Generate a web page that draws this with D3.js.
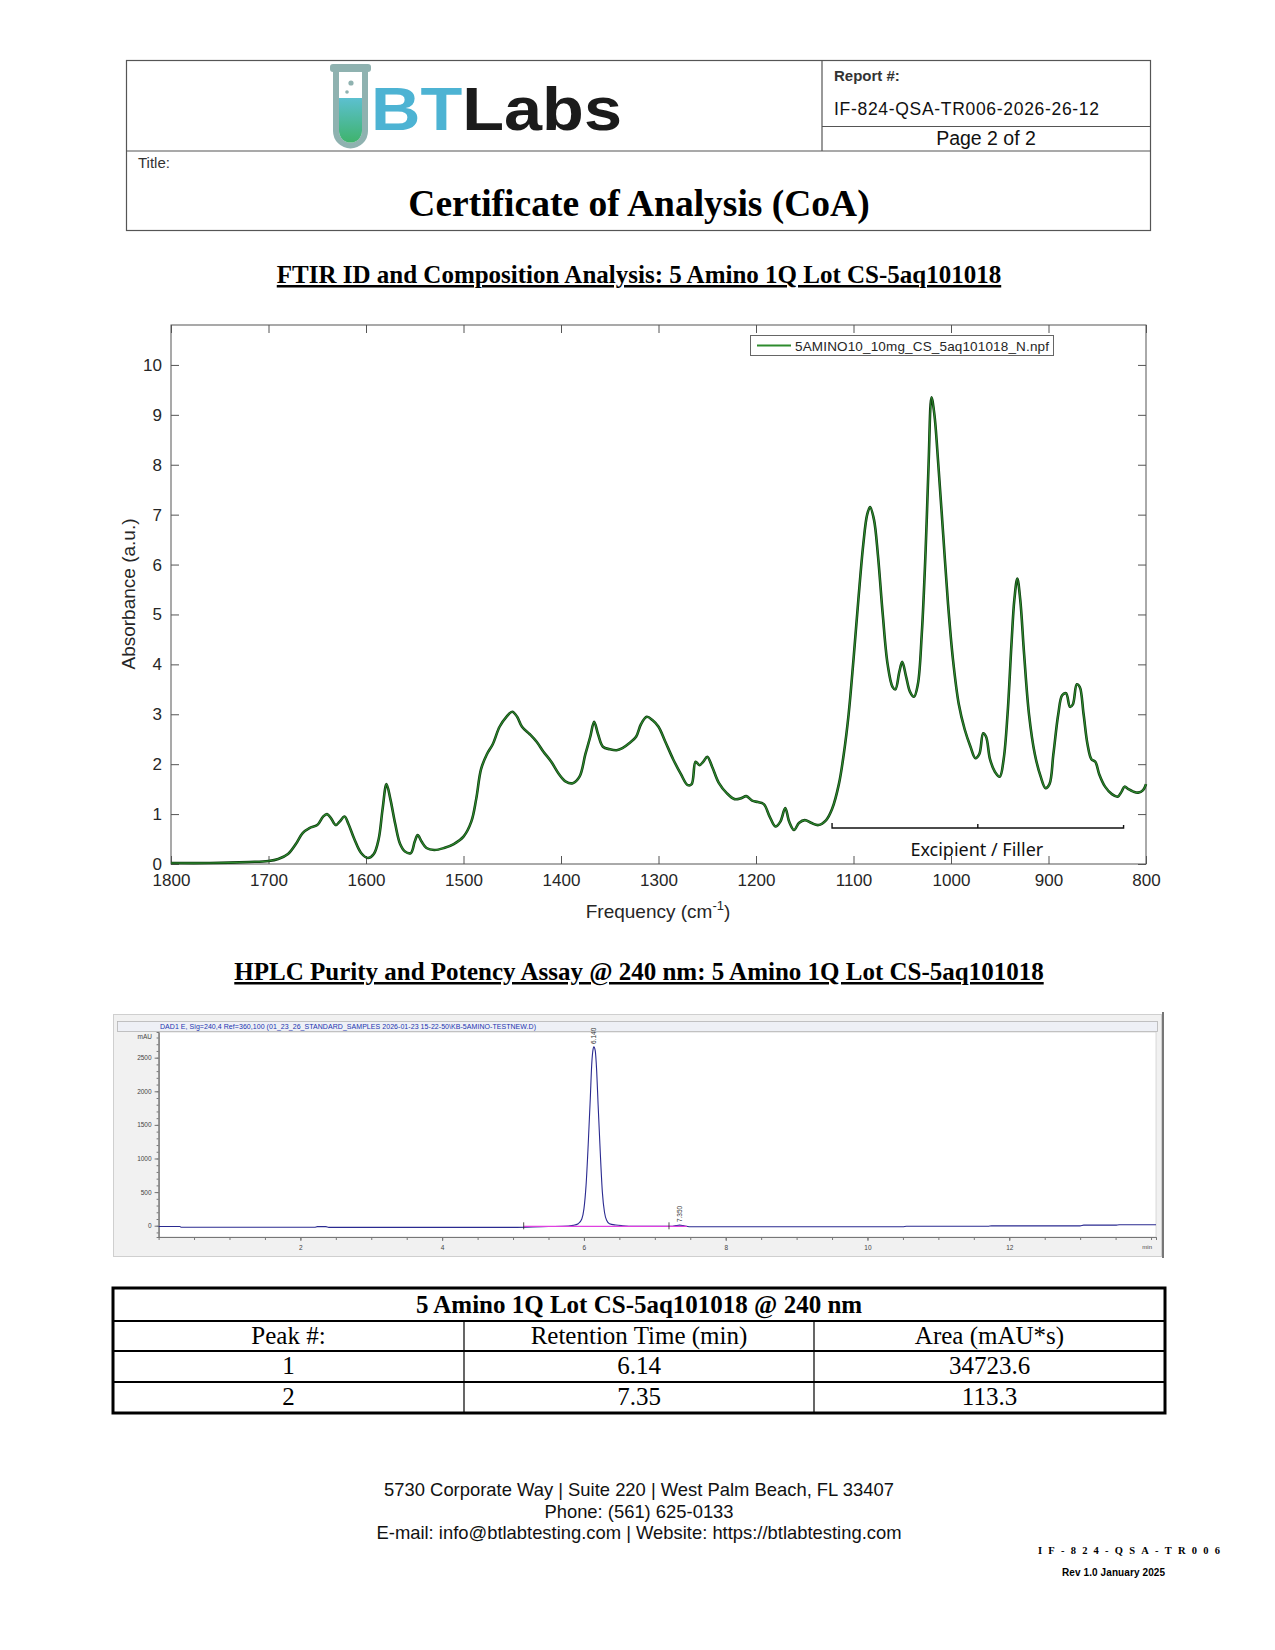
<!DOCTYPE html>
<html lang="en">
<head>
<meta charset="utf-8">
<title>BTLabs Certificate of Analysis - 5 Amino 1Q</title>
<script src="https://cdn.jsdelivr.net/npm/d3@7"></script>
<style>
body { margin: 0; background: #fff; }
svg { display: block; }
.serif { font-family: "Liberation Serif", "Times New Roman", serif; }
.sans { font-family: "Liberation Sans", Arial, sans-serif; }
</style>
</head>
<body>
<script>
// FTIR spectrum (wavenumber cm-1, absorbance a.u.)
var ftirWave = [1800,1760,1720,1700,1690,1680,1672,1665,1658,1650,1644,1640,1636,1631,1627,1622,1618,1612,1605,1598,
  1592,1587,1583,1579,1575,1570,1565,1560,1554,1550,1547,1543,1538,1530,1520,1510,1500,1492,1487,1482,
  1476,1470,1463,1456,1450,1445,1440,1432,1425,1418,1410,1402,1395,1388,1381,1375,1370,1366,1362,1357,
  1350,1343,1337,1330,1323,1318,1312,1306,1300,1293,1285,1277,1270,1266,1262,1258,1254,1250,1245,1238,
  1230,1222,1215,1210,1204,1198,1192,1186,1180,1175,1170,1166,1161,1156,1150,1143,1136,1128,1122,1115,
  1110,1105,1100,1095,1090,1086,1083,1079,1075,1070,1065,1060,1057,1053,1050,1046,1042,1038,1034,1030,
  1026,1023,1020,1017,1013,1008,1003,998,992,986,980,975,971,967,964,960,955,950,946,942,
  938,935,932,929,925,920,914,908,903,899,895,890,886,882,878,875,871,868,864,860,
  856,852,848,842,835,829,825,822,818,813,808,803,800];
var ftirAbs = [0.02,0.02,0.04,0.06,0.1,0.2,0.4,0.62,0.72,0.78,0.95,1.0,0.92,0.78,0.85,0.95,0.8,0.5,0.22,0.12,
  0.2,0.5,1.1,1.6,1.3,0.8,0.4,0.25,0.22,0.45,0.58,0.45,0.32,0.28,0.32,0.4,0.55,0.85,1.3,1.9,
  2.2,2.4,2.75,2.95,3.05,2.95,2.75,2.6,2.45,2.25,2.05,1.8,1.65,1.62,1.75,2.2,2.55,2.85,2.6,2.35,
  2.3,2.28,2.32,2.42,2.55,2.8,2.95,2.88,2.75,2.45,2.1,1.8,1.58,1.6,2.05,1.98,2.05,2.15,1.95,1.62,
  1.42,1.3,1.32,1.36,1.27,1.24,1.2,0.95,0.75,0.85,1.12,0.85,0.68,0.82,0.88,0.82,0.78,0.88,1.1,1.6,
  2.2,3.0,4.1,5.3,6.4,7.0,7.15,6.9,6.2,5.0,4.0,3.55,3.5,3.85,4.05,3.75,3.45,3.35,3.6,4.6,
  6.3,8.0,9.35,9.0,8.0,6.6,5.2,4.1,3.2,2.7,2.35,2.12,2.2,2.62,2.55,2.1,1.85,1.75,2.1,3.0,
  4.4,5.3,5.72,5.3,4.2,3.0,2.2,1.75,1.52,1.6,2.2,3.0,3.38,3.42,3.15,3.2,3.6,3.55,3.0,2.4,
  2.1,2.05,1.8,1.55,1.4,1.35,1.45,1.55,1.5,1.45,1.43,1.48,1.6];
var ftirXTicks = [1800,1700,1600,1500,1400,1300,1200,1100,1000,900,800];
var ftirYTicks = [0,1,2,3,4,5,6,7,8,9,10];
var ftirLegend = "5AMINO10_10mg_CS_5aq101018_N.npf";
var excipientRange = [1122, 823];

// HPLC chromatogram (min, mAU)
var hplcTime = [0,0.3,0.32,1.0,2.0,2.2,2.24,2.36,2.4,3.0,4.0,5.0,5.5,5.7,5.85,5.92,5.97,6.0,6.03,6.06,
  6.09,6.11,6.13,6.14,6.16,6.18,6.2,6.23,6.26,6.29,6.32,6.36,6.45,6.55,6.7,7.0,7.25,7.3,7.35,7.4,
  7.45,7.5,8.0,9.0,10.0,10.5,10.55,11.0,11.7,11.75,12.5,13.0,13.05,13.5,13.55,14.07];
var hplcSignal = [-12,-12,-24,-24,-24,-24,-14,-14,-25,-25,-25,-25,-12,-10,5,30,100,250,600,1200,
  1900,2400,2630,2660,2600,2300,1800,1100,500,200,80,30,10,0,-8,-9,-8,2,9,2,
  -8,-16,-16,-16,-16,-16,-8,-8,-8,-2,-2,-2,8,8,15,15];
var hplcXTicks = [2,4,6,8,10,12];
var hplcYTicks = [0,500,1000,1500,2000,2500];
var hplcTitle = "DAD1 E, Sig=240,4 Ref=360,100 (01_23_26_STANDARD_SAMPLES 2026-01-23 15-22-50\\KB-5AMINO-TESTNEW.D)";
var peakTimes = [6.14, 7.35];
var peakLabels = ["6.140", "7.350"];
var peakHeights = [2660, 9];
var integrationBase = [5.15, 7.45, -9];

// results table
var tableTitle = "5 Amino 1Q Lot CS-5aq101018 @ 240 nm";
var tableHeader = ["Peak #:", "Retention Time (min)", "Area (mAU*s)"];
var peakNumbers = ["1", "2"];
var retentionTimes = ["6.14", "7.35"];
var peakAreas = ["34723.6", "113.3"];

var footerLines = ["5730 Corporate Way | Suite 220 | West Palm Beach, FL 33407",
  "Phone: (561) 625-0133",
  "E-mail: info@btlabtesting.com | Website: https://btlabtesting.com"];

var W = 1275, H = 1650;
var svg = d3.select("body").append("svg").attr("width", W).attr("height", H);

// ---------- header ----------
var hdr = svg.append("g");
hdr.append("rect").attr("x", 126.5).attr("y", 60.5).attr("width", 1024).attr("height", 170)
  .attr("fill", "none").attr("stroke", "#555").attr("stroke-width", 1.2);
hdr.append("line").attr("x1", 126.5).attr("x2", 1150.5).attr("y1", 151).attr("y2", 151)
  .attr("stroke", "#555").attr("stroke-width", 1.2);
hdr.append("line").attr("x1", 822).attr("x2", 822).attr("y1", 60.5).attr("y2", 151)
  .attr("stroke", "#555").attr("stroke-width", 1.2);
hdr.append("line").attr("x1", 822).attr("x2", 1150.5).attr("y1", 126.5).attr("y2", 126.5)
  .attr("stroke", "#555").attr("stroke-width", 1.2);

hdr.append("text").attr("class", "sans").attr("x", 834).attr("y", 81)
  .attr("font-size", 15).attr("font-weight", "bold").attr("fill", "#333").text("Report #:");
hdr.append("text").attr("class", "sans").attr("x", 834).attr("y", 115)
  .attr("font-size", 17.5).attr("fill", "#111").attr("textLength", 265).text("IF-824-QSA-TR006-2026-26-12");
hdr.append("text").attr("class", "sans").attr("x", 986).attr("y", 145)
  .attr("font-size", 19.5).attr("fill", "#111").attr("text-anchor", "middle").text("Page 2 of 2");
hdr.append("text").attr("class", "sans").attr("x", 138).attr("y", 168)
  .attr("font-size", 15).attr("fill", "#333").text("Title:");
hdr.append("text").attr("class", "serif").attr("x", 639).attr("y", 216)
  .attr("font-size", 37.5).attr("font-weight", "bold").attr("text-anchor", "middle")
  .text("Certificate of Analysis (CoA)");

// logo: test tube + wordmark
var defs = svg.append("defs");
var lg = defs.append("linearGradient").attr("id", "liquid").attr("x1", 0).attr("y1", 0).attr("x2", 0).attr("y2", 1);
lg.append("stop").attr("offset", "0%").attr("stop-color", "#5cc0d0");
lg.append("stop").attr("offset", "100%").attr("stop-color", "#3fb36c");
var logo = hdr.append("g");
logo.append("path")
  .attr("d", "M336,70 L336,131 A14.5,14.5 0 0 0 365,131 L365,70")
  .attr("fill", "#fff").attr("stroke", "#8fb2b0").attr("stroke-width", 6);
logo.append("path")
  .attr("d", "M339,98 L362,98 L362,131 A11.5,11.5 0 0 1 339,131 Z")
  .attr("fill", "url(#liquid)");
logo.append("rect").attr("x", 330).attr("y", 64).attr("width", 41).attr("height", 8).attr("rx", 3)
  .attr("fill", "#8fb2b0");
logo.append("circle").attr("cx", 351).attr("cy", 83).attr("r", 2.6).attr("fill", "#8fb2b0");
logo.append("circle").attr("cx", 347).attr("cy", 92).attr("r", 1.8).attr("fill", "#8fb2b0");
var word = logo.append("text").attr("class", "sans").attr("x", 371).attr("y", 130)
  .attr("font-size", 62).attr("font-weight", "bold")
  .attr("textLength", 251).attr("lengthAdjust", "spacingAndGlyphs");
word.append("tspan").attr("fill", "#4db3d3").text("BT");
word.append("tspan").attr("fill", "#1b1b1b").text("Labs");

// ---------- FTIR ----------
svg.append("text").attr("class", "serif").attr("x", 639).attr("y", 283)
  .attr("font-size", 25).attr("font-weight", "bold").attr("text-anchor", "middle")
  .style("text-decoration", "underline")
  .text("FTIR ID and Composition Analysis: 5 Amino 1Q Lot CS-5aq101018");

var fx = d3.scaleLinear().domain([1800, 800]).range([171, 1146]);
var fy = d3.scaleLinear().domain([0, 10.8]).range([864, 325]);
var ftir = svg.append("g");

ftir.append("rect").attr("x", 171).attr("y", 325).attr("width", 975).attr("height", 539)
  .attr("fill", "#fff").attr("stroke", "#555").attr("stroke-width", 1);

function styleAxis(g) {
  g.select(".domain").remove();
  g.selectAll("line").attr("stroke", "#555");
  g.selectAll("text").attr("class", "sans").attr("font-size", 17).attr("fill", "#262626");
}
ftir.append("g").attr("transform", "translate(0,864)")
  .call(d3.axisBottom(fx).tickValues(ftirXTicks).tickSize(-8).tickPadding(10).tickFormat(d3.format("d")))
  .call(styleAxis);
ftir.append("g").attr("transform", "translate(0,325)")
  .call(d3.axisTop(fx).tickValues(ftirXTicks).tickSize(-8).tickFormat(""))
  .call(styleAxis);
ftir.append("g").attr("transform", "translate(171,0)")
  .call(d3.axisLeft(fy).tickValues(ftirYTicks).tickSize(-8).tickPadding(9))
  .call(styleAxis);
ftir.append("g").attr("transform", "translate(1146,0)")
  .call(d3.axisRight(fy).tickValues(ftirYTicks).tickSize(-8).tickFormat(""))
  .call(styleAxis);

var fxLab = ftir.append("text").attr("class", "sans").attr("x", 658).attr("y", 918)
  .attr("font-size", 19).attr("fill", "#262626").attr("text-anchor", "middle");
fxLab.append("tspan").text("Frequency (cm");
fxLab.append("tspan").attr("font-size", 13).attr("dy", -8).text("-1");
fxLab.append("tspan").attr("dy", 8).text(")");
ftir.append("text").attr("class", "sans")
  .attr("transform", "translate(135,594) rotate(-90)")
  .attr("font-size", 19).attr("fill", "#262626").attr("text-anchor", "middle")
  .text("Absorbance (a.u.)");

var ftirLine = d3.line()
  .x(function(d, i) { return fx(ftirWave[i]); })
  .y(function(d) { return fy(d); })
  .curve(d3.curveCatmullRom.alpha(0.5));
ftir.append("path").datum(ftirAbs).attr("d", ftirLine)
  .attr("fill", "none").attr("stroke", "#0f3d10").attr("stroke-width", 2.6);
ftir.append("path").datum(ftirAbs).attr("d", ftirLine)
  .attr("fill", "none").attr("stroke", "#2e8b2e").attr("stroke-width", 1.1);

// legend
ftir.append("rect").attr("x", 750.5).attr("y", 335.5).attr("width", 303).attr("height", 20)
  .attr("fill", "#fff").attr("stroke", "#666").attr("stroke-width", 1);
ftir.append("line").attr("x1", 757).attr("x2", 791).attr("y1", 345.5).attr("y2", 345.5)
  .attr("stroke", "#2e8b2e").attr("stroke-width", 2);
ftir.append("text").attr("class", "sans").attr("x", 795).attr("y", 350.5)
  .attr("font-size", 13.5).attr("fill", "#262626").attr("textLength", 254).text(ftirLegend);

// excipient bracket
var by = fy(0.72);
var bmid = (excipientRange[0] + excipientRange[1]) / 2;
ftir.append("path")
  .attr("d", "M" + fx(excipientRange[0]) + "," + (by - 5) + " V" + by + " H" + fx(excipientRange[1]) + " V" + (by - 3) +
    " M" + fx(bmid) + "," + by + " V" + (by - 4))
  .attr("fill", "none").attr("stroke", "#111").attr("stroke-width", 1.4);
ftir.append("text").attr("x", fx(bmid) - 1).attr("y", by + 28)
  .attr("font-family", "'Noto Sans', 'Open Sans', sans-serif").attr("font-size", 18).attr("fill", "#111")
  .attr("text-anchor", "middle").text("Excipient / Filler");

// ---------- HPLC ----------
svg.append("text").attr("class", "serif").attr("x", 639).attr("y", 980)
  .attr("font-size", 25).attr("font-weight", "bold").attr("text-anchor", "middle")
  .style("text-decoration", "underline")
  .text("HPLC Purity and Potency Assay @ 240 nm: 5 Amino 1Q Lot CS-5aq101018");

var hx = d3.scaleLinear().domain([0, 14.07]).range([158.6, 1156]);
var hy = d3.scaleLinear().domain([-168, 2882]).range([1237, 1032]);
var hplc = svg.append("g");
hplc.append("rect").attr("x", 113.5).attr("y", 1014.5).attr("width", 1048).attr("height", 242)
  .attr("fill", "#f1f1f1").attr("stroke", "#cfcfcf");
hplc.append("line").attr("x1", 1163).attr("x2", 1163).attr("y1", 1012).attr("y2", 1258)
  .attr("stroke", "#777").attr("stroke-width", 2);
hplc.append("rect").attr("x", 117.5).attr("y", 1021.5).attr("width", 1040).attr("height", 10)
  .attr("fill", "#eef0f6").attr("stroke", "#b5b5b5").attr("stroke-width", 0.8);
hplc.append("text").attr("class", "sans").attr("x", 160).attr("y", 1029.3)
  .attr("font-size", 7).attr("fill", "#2234b0").attr("textLength", 376).text(hplcTitle);
hplc.append("rect").attr("x", 158.6).attr("y", 1032).attr("width", 997.4).attr("height", 205)
  .attr("fill", "#fff").attr("stroke", "#c4c4c4").attr("stroke-width", 0.6);

function styleHplc(g) {
  g.select(".domain").attr("stroke", "#777");
  g.selectAll("line").attr("stroke", "#777");
  g.selectAll("text").attr("class", "sans").attr("font-size", 6.5).attr("fill", "#444");
}
hplc.append("g").attr("transform", "translate(0,1237)")
  .call(d3.axisBottom(hx).tickValues(d3.range(0.5, 14.01, 0.5)).tickSize(3).tickFormat(""))
  .call(styleHplc);
hplc.append("g").attr("transform", "translate(0,1237)")
  .call(d3.axisBottom(hx).tickValues(hplcXTicks).tickSize(4).tickSizeOuter(0).tickPadding(4).tickFormat(d3.format("d")))
  .call(styleHplc);
hplc.append("g").attr("transform", "translate(158.6,0)")
  .call(d3.axisLeft(hy).tickValues(d3.range(-100, 2801, 100)).tickSize(2).tickFormat(""))
  .call(styleHplc);
hplc.append("g").attr("transform", "translate(158.6,0)")
  .call(d3.axisLeft(hy).tickValues(hplcYTicks).tickSize(4).tickSizeOuter(0).tickPadding(3).tickFormat(d3.format("d")))
  .call(styleHplc);
hplc.append("text").attr("class", "sans").attr("x", 1152).attr("y", 1249)
  .attr("font-size", 6).attr("fill", "#444").attr("text-anchor", "end").text("min");
hplc.append("text").attr("class", "sans").attr("x", 152).attr("y", 1039)
  .attr("font-size", 6.5).attr("fill", "#444").attr("text-anchor", "end").text("mAU");

var hLine = d3.line()
  .x(function(d, i) { return hx(hplcTime[i]); })
  .y(function(d) { return hy(d); })
  .curve(d3.curveMonotoneX);
hplc.append("path").datum(hplcSignal).attr("d", hLine)
  .attr("fill", "none").attr("stroke", "#2a2a90").attr("stroke-width", 1.1);

// integration baseline and markers
hplc.append("line").attr("x1", hx(integrationBase[0])).attr("x2", hx(integrationBase[1]))
  .attr("y1", hy(integrationBase[2])).attr("y2", hy(integrationBase[2]))
  .attr("stroke", "#e040e0").attr("stroke-width", 1.2);
[integrationBase[0], 7.2].forEach(function(t) {
  hplc.append("line").attr("x1", hx(t)).attr("x2", hx(t))
    .attr("y1", hy(integrationBase[2]) - 4).attr("y2", hy(integrationBase[2]) + 3)
    .attr("stroke", "#222").attr("stroke-width", 0.8);
});
peakTimes.forEach(function(t, i) {
  hplc.append("text").attr("class", "sans")
    .attr("transform", "translate(" + (hx(t) + 2.5) + "," + (hy(peakHeights[i]) - 3) + ") rotate(-90)")
    .attr("font-size", 6.5).attr("fill", "#333").text(peakLabels[i]);
});

// ---------- table ----------
var tb = svg.append("g");
var colX = [113, 464, 814, 1165];
var rowY = [1288, 1321, 1351, 1382, 1413];
tb.append("rect").attr("x", 113).attr("y", 1288).attr("width", 1052).attr("height", 125)
  .attr("fill", "none").attr("stroke", "#000").attr("stroke-width", 3);
rowY.slice(1, 4).forEach(function(y) {
  tb.append("line").attr("x1", 113).attr("x2", 1165).attr("y1", y).attr("y2", y)
    .attr("stroke", "#000").attr("stroke-width", 1.8);
});
[464, 814].forEach(function(x) {
  tb.append("line").attr("x1", x).attr("x2", x).attr("y1", 1321).attr("y2", 1413)
    .attr("stroke", "#000").attr("stroke-width", 1.2);
});
tb.append("text").attr("class", "serif").attr("x", 639).attr("y", 1313)
  .attr("font-size", 25).attr("font-weight", "bold").attr("text-anchor", "middle").text(tableTitle);
var rows = [tableHeader].concat(peakNumbers.map(function(p, i) { return [p, retentionTimes[i], peakAreas[i]]; }));
rows.forEach(function(r, ri) {
  r.forEach(function(c, ci) {
    tb.append("text").attr("class", "serif")
      .attr("x", (colX[ci] + colX[ci + 1]) / 2).attr("y", rowY[ri + 1] + 23)
      .attr("font-size", 25).attr("text-anchor", "middle").text(c);
  });
});

// ---------- footer ----------
footerLines.forEach(function(t, i) {
  svg.append("text").attr("class", "sans").attr("x", 639).attr("y", 1496 + i * 21.5)
    .attr("font-size", 18.4).attr("text-anchor", "middle").attr("fill", "#111").text(t);
});
svg.append("text").attr("class", "serif").attr("x", 1038).attr("y", 1554)
  .attr("font-size", 10.5).attr("font-weight", "bold").attr("textLength", 182).text("IF-824-QSA-TR006");
svg.append("text").attr("class", "sans").attr("x", 1062).attr("y", 1576)
  .attr("font-size", 10).attr("font-weight", "bold").attr("textLength", 103).text("Rev 1.0 January 2025");
</script>
</body>
</html>
